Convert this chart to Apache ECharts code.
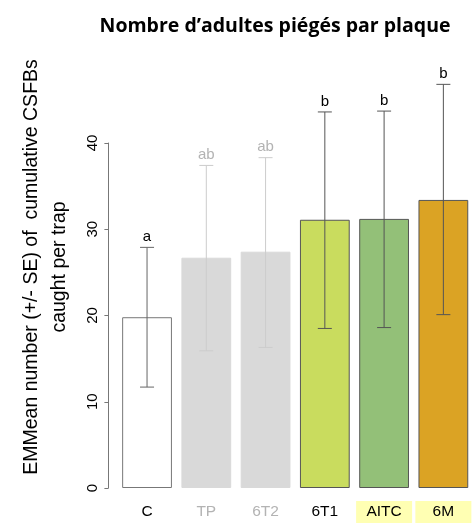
<!DOCTYPE html>
<html>
<head>
<meta charset="utf-8">
<script src="https://cdn.jsdelivr.net/npm/echarts@6/dist/echarts.min.js"></script>
<style>html,body{margin:0;padding:0;background:#fff}#c{width:475px;height:523px}</style>
</head>
<body>
<div id="c"></div>
<script>
var categories = ['C', 'TP', '6T2', '6T1', 'AITC', '6M'];
var means = [19.8, 26.7, 27.4, 31.1, 31.2, 33.4];
var errLow = [11.7, 15.9, 16.3, 18.5, 18.6, 20.1];
var errHigh = [27.9, 37.4, 38.3, 43.6, 43.7, 46.8];
var letters = ['a', 'ab', 'ab', 'b', 'b', 'b'];
var yTicks = [0, 10, 20, 30, 40];

var barColors = ['#ffffff', '#d9d9d9', '#d9d9d9', '#c9dc5e', '#93c078', '#dba324'];
var barBorders = ['#777777', '#d9d9d9', '#d9d9d9', '#555555', '#555555', '#555555'];
var labelColors = ['#000000', '#b3b3b3', '#b3b3b3', '#000000', '#000000', '#000000'];
var errColors = ['#666666', '#cccccc', '#cccccc', '#555555', '#555555', '#555555'];
var highlighted = [false, false, false, false, true, true];

var chart = echarts.init(document.getElementById('c'), null, {renderer: 'canvas'});
var option = {
  animation: false,
  backgroundColor: '#ffffff',
  title: {
    text: 'Nombre d\u2019adultes piégés par plaque',
    left: 270, top: 11, textAlign: 'center',
    textStyle: {fontFamily: 'Open Sans', fontWeight: 'bold', fontSize: 19.5, color: '#000'}
  },
  graphic: [{
    type: 'text', x: 46, y: 267, rotation: Math.PI / 2,
    style: {
      text: 'EMMean number (+/- SE) of  cumulative CSFBs\ncaught per trap',
      fontFamily: 'Liberation Sans, Arial', fontSize: 19.5, fill: '#000',
      align: 'center', verticalAlign: 'middle', lineHeight: 28
    }
  }],
  grid: {left: 117.4, right: 2, top: 143, bottom: 33, containLabel: false},
  xAxis: {
    type: 'category', data: categories,
    axisLine: {show: false}, axisTick: {show: false},
    axisLabel: {
      margin: 13, interval: 0,
      formatter: function (v, i) { return highlighted[i] ? '{h|' + v + '}' : '{n' + i + '|' + v + '}'; },
      rich: (function () {
        var r = {h: {backgroundColor: '#ffffb3', width: 56, height: 22, align: 'center', color: '#000', fontSize: 15.5, fontFamily: 'Liberation Sans, Arial', padding: [0, 0, 0, 0]}};
        for (var i = 0; i < categories.length; i++) r['n' + i] = {color: labelColors[i], fontSize: 15.5, height: 22, fontFamily: 'Liberation Sans, Arial'};
        return r;
      })()
    }
  },
  yAxis: {
    type: 'value', min: 0, max: 40, interval: 10, offset: 9,
    axisLine: {show: true, lineStyle: {color: '#777', width: 1}},
    axisTick: {show: true, length: 4, lineStyle: {color: '#777'}},
    splitLine: {show: false},
    axisLabel: {rotate: 90, margin: 8, color: '#000', fontSize: 15, fontFamily: 'Liberation Sans, Arial',
      formatter: function (v) { return yTicks.indexOf(v) >= 0 ? String(v) : ''; }}
  },
  series: [{
    type: 'bar', barCategoryGap: '16%',
    data: means.map(function (v, i) {
      return {value: v, itemStyle: {color: barColors[i], borderColor: barBorders[i], borderWidth: 1}};
    })
  }, {
    type: 'custom', clip: false, z: 5,
    data: categories.map(function (c, i) { return [i, errLow[i], errHigh[i]]; }),
    renderItem: function (params, api) {
      var i = api.value(0);
      var lo = api.coord([i, api.value(1)]);
      var hi = api.coord([i, api.value(2)]);
      var x = lo[0], hw = 7;
      var col = errColors[i];
      var ls = {stroke: col, lineWidth: 1};
      return {type: 'group', children: [
        {type: 'line', shape: {x1: x, y1: lo[1], x2: x, y2: hi[1]}, style: ls},
        {type: 'line', shape: {x1: x - hw, y1: lo[1], x2: x + hw, y2: lo[1]}, style: ls},
        {type: 'line', shape: {x1: x - hw, y1: hi[1], x2: x + hw, y2: hi[1]}, style: ls},
        {type: 'text', x: x, y: hi[1] - 3, style: {text: letters[i], fill: labelColors[i], fontSize: 15, fontFamily: 'Liberation Sans, Arial', align: 'center', verticalAlign: 'bottom'}}
      ]};
    }
  }]
};
chart.setOption(option);
</script>
</body>
</html>
